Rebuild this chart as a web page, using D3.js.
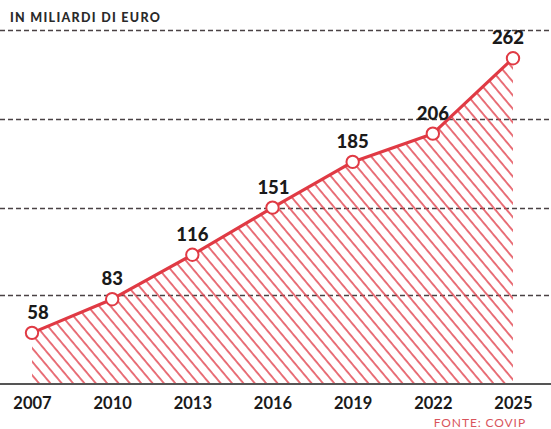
<!DOCTYPE html>
<html><head><meta charset="utf-8">
<script src="https://cdn.jsdelivr.net/npm/d3@7"></script>
<style>
html,body{margin:0;padding:0;background:#fff;}
svg{display:block;}
</style></head>
<body>
<svg id="chart" width="551" height="429"></svg>
<script>
const years = ["2007","2010","2013","2016","2019","2022","2025"];
const values = [58, 83, 116, 151, 185, 206, 262];
const gridValues = [86, 151, 217, 283];
const unitLabel = "IN MILIARDI DI EURO";
const sourceLabel = "FONTE: COVIP";

const svg = d3.select("#chart");
const W = 551, H = 429;
const red = "#e03a44";

const x = d3.scalePoint().domain(years).range([32, 513]);
const y = d3.scaleLinear().domain([20, 283]).range([384, 30]);

const defs = svg.append("defs");
const pat = defs.append("pattern")
  .attr("id", "hatch")
  .attr("patternUnits", "userSpaceOnUse")
  .attr("width", 8.7).attr("height", 20)
  .attr("patternTransform", "rotate(-40)");
pat.append("line")
  .attr("x1", 1).attr("y1", 0).attr("x2", 1).attr("y2", 20)
  .attr("stroke", "#e2434e").attr("stroke-width", 1.5);

// gridlines
svg.append("g").selectAll("line").data(gridValues).join("line")
  .attr("x1", 0).attr("x2", W)
  .attr("y1", d => Math.round(y(d)) + 0.5).attr("y2", d => Math.round(y(d)) + 0.5)
  .attr("stroke", "#4a4244").attr("stroke-width", 1.3)
  .attr("stroke-dasharray", "5,3");

const data = years.map((yr, i) => ({yr, v: values[i]}));

// hatched area
const area = d3.area()
  .x(d => x(d.yr))
  .y0(y(20))
  .y1(d => y(d.v));
svg.append("path").datum(data)
  .attr("d", area)
  .attr("fill", "url(#hatch)");

// baseline
svg.append("line")
  .attr("x1", 0).attr("x2", W)
  .attr("y1", y(20)).attr("y2", y(20))
  .attr("stroke", "#555").attr("stroke-width", 2.2);

// line
const line = d3.line().x(d => x(d.yr)).y(d => y(d.v));
svg.append("path").datum(data)
  .attr("d", line)
  .attr("fill", "none")
  .attr("stroke", red).attr("stroke-width", 3.2)
  .attr("stroke-linejoin", "round");

// points
svg.append("g").selectAll("circle").data(data).join("circle")
  .attr("cx", d => x(d.yr)).attr("cy", d => y(d.v))
  .attr("r", 6.2)
  .attr("fill", "#fff").attr("stroke", red).attr("stroke-width", 2);

// value labels
const dxOff = [6, 0, 0, 1, 0, 0, -5];
svg.append("g").selectAll("text").data(data).join("text")
  .attr("x", (d, i) => x(d.yr) + dxOff[i])
  .attr("y", d => y(d.v) - 14)
  .attr("text-anchor", "middle")
  .attr("font-family", "Lato, 'Open Sans', sans-serif")
  .attr("font-weight", 900)
  .attr("font-size", 18.5)
  .attr("fill", "#1a1a1a")
  .text(d => d.v);

// x axis
const xAxis = svg.append("g")
  .attr("transform", `translate(0,${y(20)})`)
  .call(d3.axisBottom(x).tickSize(0).tickPadding(13));
xAxis.select(".domain").remove();
xAxis.selectAll("text")
  .attr("font-family", "Lato, 'Open Sans', sans-serif")
  .attr("font-weight", 700)
  .attr("font-size", 16.5)
  .attr("fill", "#1a1a1a");

// header
svg.append("text")
  .attr("x", 10).attr("y", 22)
  .attr("font-family", "Lato, 'Open Sans', sans-serif")
  .attr("font-weight", 900)
  .attr("font-size", 12.5)
  .attr("letter-spacing", 1.3)
  .attr("fill", "#2a2a2a")
  .text(unitLabel);

// source
svg.append("text")
  .attr("x", 526).attr("y", 427)
  .attr("text-anchor", "end")
  .attr("font-family", "Lato, 'Open Sans', sans-serif")
  .attr("font-size", 12)
  .attr("letter-spacing", 0.9)
  .attr("fill", "#d9545c")
  .text(sourceLabel);
</script>
</body></html>
